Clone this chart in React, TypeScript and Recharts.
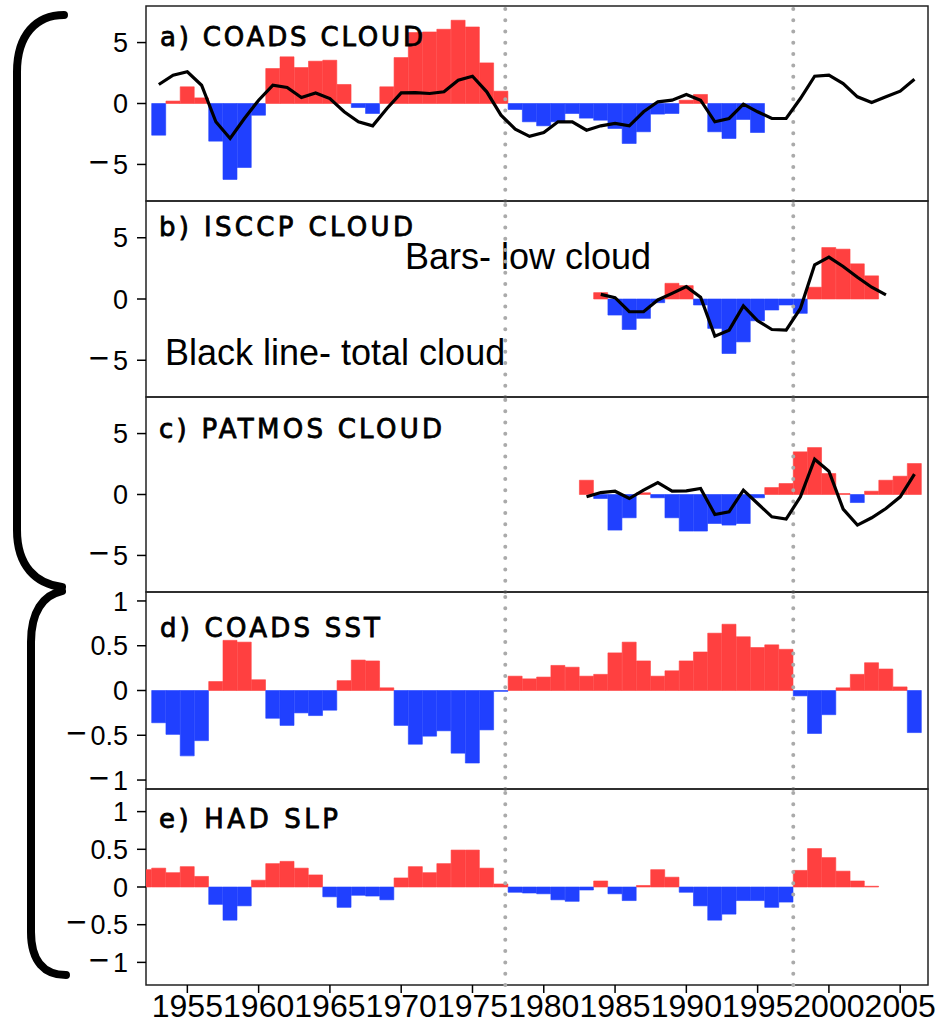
import React from "react";
import {
  ComposedChart,
  Bar,
  Line,
  XAxis,
  YAxis,
  Cell,
  ReferenceLine,
  ReferenceArea,
} from "recharts";

/* ── colours / shared axis ─────────────────────────────────────── */
const RED = "#ff4040";
const BLUE = "#2040ff";
const FONT = "'Liberation Sans', Arial, sans-serif";
const TITLE_FONT = "'DejaVu Sans', Verdana, sans-serif";

const X_MIN = 1952.1;
const X_MAX = 2006.95;
const YEAR_TICKS = [1955, 1960, 1965, 1970, 1975, 1980, 1985, 1990, 1995, 2000, 2005];
const SHIFT_YEARS = [1977.3, 1997.5];

const CLOUD_TICKS = [-5, 0, 5];
const SMALL_TICKS = [-1, -0.5, 0, 0.5, 1];

/* ── a) COADS cloud ────────────────────────────────────────────── */
const COADS_LOW_START = 1953;
const COADS_LOW = [
  -2.6, 0.2, 1.37, 0.46, -3.09, -6.23, -5.25, -0.96, 2.87, 3.83, 2.95, 3.47, 3.55, 1.56, -0.33,
  -0.82, 1.37, 3.77, 5.82, 5.87, 6.09, 6.83, 6.28, 3.33, 1.01, -0.49, -1.5, -1.83, -1.5, -0.82,
  -1.2, -1.37, -2.05, -3.28, -2.32, -0.87, -0.82, 0.27, 0.74, -2.32, -2.87, -1.31, -2.38,
];
const COADS_TOTAL_START = 1953;
const COADS_TOTAL = [
  1.56, 2.32, 2.6, 1.5, -1.5, -2.87, -1.23, 0.27, 1.5, 1.31, 0.49, 0.87, 0.41, -0.68, -1.5,
  -1.83, -0.41, 0.87, 0.9, 0.82, 0.96, 1.91, 2.24, 0.96, -0.96, -2.1, -2.7, -2.38, -1.5, -1.5,
  -2.19, -1.83, -1.64, -1.83, -0.68, 0.14, 0.27, 0.74, 0.27, -1.5, -1.23, -0.05, -0.68, -1.23,
  -1.23, 0.41, 2.24, 2.32, 1.64, 0.55, 0.08, 0.55, 1.01, 1.99,
];

/* ── b) ISCCP cloud ────────────────────────────────────────────── */
const ISCCP_LOW_START = 1984;
const ISCCP_LOW = [
  0.52, -1.31, -2.49, -1.58, -0.3, 1.28, 1.09, -0.49, -2.4, -4.45, -3.5, -1.78, -0.9, -0.49,
  -1.17, 0.96, 4.2, 4.07, 2.87, 1.89,
];
const ISCCP_TOTAL_START = 1984;
const ISCCP_TOTAL = [
  0.38, 0.11, -1.04, -1.04, -0.08, 0.46, 1.01, 0.14, -3.03, -2.54, -0.57, -1.78, -2.49, -2.54,
  -0.77, 2.79, 3.42, 2.65, 1.78, 0.96, 0.33,
];

/* ── c) PATMOS cloud ───────────────────────────────────────────── */
const PATMOS_LOW_START = 1983;
const PATMOS_LOW = [
  1.17, -0.33, -2.92, -1.91, 0.14, -0.27, -1.91, -3.0, -3.0, -2.38, -2.51, -2.38, -0.27, 0.57,
  0.9, 3.5, 3.85, 1.72, 0.08, -0.66, 0.27, 1.17, 1.5, 2.54,
];
const PATMOS_TOTAL_START = 1983;
const PATMOS_TOTAL = [
  -0.19, 0.16, 0.27, -0.33, 0.36, 0.98, 0.27, 0.3, 0.49, -1.64, -1.42, 0.36, -0.74, -1.83, -2.02,
  -0.19, 2.9, 1.91, -1.2, -2.51, -1.91, -1.15, -0.19, 1.67,
];

/* ── d) COADS SST ──────────────────────────────────────────────── */
const SST_START = 1953;
const SST = [
  -0.36, -0.49, -0.73, -0.56, 0.1, 0.56, 0.54, 0.12, -0.31, -0.39, -0.25, -0.28, -0.22, 0.11,
  0.34, 0.33, 0.03, -0.39, -0.6, -0.51, -0.45, -0.7, -0.81, -0.44, -0.01, 0.16, 0.13, 0.15, 0.28,
  0.26, 0.16, 0.18, 0.42, 0.54, 0.33, 0.16, 0.22, 0.33, 0.43, 0.64, 0.74, 0.6, 0.48, 0.51, 0.46,
  -0.06, -0.48, -0.27, 0.03, 0.18, 0.31, 0.24, 0.04, -0.47,
];

/* ── e) HAD SLP ────────────────────────────────────────────────── */
const SLP_START = 1952;
const SLP = [
  0.23, 0.25, 0.19, 0.27, 0.14, -0.23, -0.44, -0.25, 0.09, 0.31, 0.34, 0.25, 0.16, -0.13, -0.27,
  -0.11, -0.12, -0.17, 0.12, 0.27, 0.19, 0.31, 0.49, 0.49, 0.25, 0.04, -0.07, -0.08, -0.09, -0.17,
  -0.19, -0.04, 0.08, -0.09, -0.18, 0.02, 0.23, 0.13, -0.07, -0.25, -0.44, -0.36, -0.18, -0.18,
  -0.27, -0.2, 0.22, 0.51, 0.39, 0.21, 0.08, 0.01,
];

/* ── layout ────────────────────────────────────────────────────── */
const W = 945;
const PLOT_LEFT = 146;
const PLOT_RIGHT = 928;
const X_AXIS_H = 42;
const PAD = 20; // room so tick labels at panel edges aren't clipped

type Row = { year: number; bar: number | null; line: number | null };

function rows(barStart: number, bars: number[], lineStart?: number, line?: number[]): Row[] {
  const out: Row[] = [];
  for (let y = 1951; y <= 2007; y++) {
    const b = bars[y - barStart];
    const l = line && lineStart != null ? line[y - lineStart] : undefined;
    out.push({ year: y, bar: b ?? null, line: l ?? null });
  }
  return out;
}

// y tick: long minus sign, then the number
function YTick(props: any) {
  const { x, y, payload } = props;
  const v: number = payload.value;
  return (
    <text x={x} y={y} dy="0.36em" textAnchor="end" fontSize={27} fontFamily={FONT} fill="#000">
      {v < 0 && <tspan fontSize={35}>{"\u2212"}</tspan>}
      <tspan dx={v < 0 ? 4 : 0}>{String(Math.abs(v))}</tspan>
    </text>
  );
}

function Panel({
  data,
  top,
  height,
  domain,
  ticks,
  showX = false,
  hasLine = false,
}: {
  data: Row[];
  top: number;
  height: number;
  domain: [number, number];
  ticks: number[];
  showX?: boolean;
  hasLine?: boolean;
}) {
  const h = PAD + height + (showX ? X_AXIS_H : PAD);
  return (
    <div style={{ position: "absolute", left: 0, top: top - PAD, width: W, height: h }}>
      <ComposedChart
        width={W}
        height={h}
        data={data}
        barCategoryGap={0}
        barGap={0}
        margin={{ top: PAD, right: W - PLOT_RIGHT, bottom: showX ? 0 : PAD, left: 0 }}
      >
        <XAxis
          type="number"
          dataKey="year"
          domain={[X_MIN, X_MAX]}
          allowDataOverflow
          ticks={YEAR_TICKS}
          hide={!showX}
          height={X_AXIS_H}
          axisLine={false}
          tickSize={8}
          tickMargin={1}
          tickLine={{ stroke: "#000", strokeWidth: 1.5 }}
          tick={{ fill: "#000", fontSize: 32, fontFamily: FONT }}
          interval={0}
        />
        <YAxis
          domain={domain}
          allowDataOverflow
          ticks={ticks}
          width={PLOT_LEFT}
          axisLine={false}
          tickSize={9}
          tickMargin={9}
          tickLine={{ stroke: "#000", strokeWidth: 1.5 }}
          tick={<YTick />}
          interval={0}
        />
        <Bar dataKey="bar" isAnimationActive={false}>
          {data.map((d, i) => {
            const c = d.bar != null && d.bar < 0 ? BLUE : RED;
            return <Cell key={i} fill={c} stroke={c} strokeWidth={0.6} />;
          })}
        </Bar>
        {SHIFT_YEARS.map((x) => (
          <ReferenceLine
            key={x}
            x={x}
            stroke="#aaaaaa"
            strokeWidth={4}
            strokeDasharray="0 11.3"
            strokeLinecap="round"
          />
        ))}
        {hasLine && (
          <Line
            dataKey="line"
            type="linear"
            stroke="#000"
            strokeWidth={3.2}
            dot={false}
            isAnimationActive={false}
          />
        )}
        <ReferenceArea
          x1={X_MIN}
          x2={X_MAX}
          y1={domain[0]}
          y2={domain[1]}
          fill="none"
          fillOpacity={0}
          stroke="#222"
          strokeWidth={1.5}
        />
      </ComposedChart>
    </div>
  );
}

const TITLES = [
  { text: "a) COADS CLOUD", x: 160, y: 46, len: 263 },
  { text: "b) ISCCP CLOUD", x: 159, y: 236, len: 254 },
  { text: "c) PATMOS CLOUD", x: 159, y: 438, len: 283 },
  { text: "d) COADS SST", x: 160, y: 637, len: 220 },
  { text: "e) HAD SLP", x: 159, y: 828, len: 179 },
];

export default function App() {
  return (
    <div style={{ position: "absolute", left: 0, top: 0, width: W, height: 1027, background: "#fff" }}>
      {/* annotation text sits under the chart layers */}
      <svg width={W} height={1027} style={{ position: "absolute", left: 0, top: 0 }}>
        <text x={405} y={269} fontSize={36} fontFamily={FONT} fill="#000">
          Bars- low cloud
        </text>
        <text x={165} y={365} fontSize={36} fontFamily={FONT} fill="#000">
          Black line- total cloud
        </text>
      </svg>

      <Panel data={rows(COADS_LOW_START, COADS_LOW, COADS_TOTAL_START, COADS_TOTAL)} top={6} height={195} domain={[-8, 8]} ticks={CLOUD_TICKS} hasLine />
      <Panel data={rows(ISCCP_LOW_START, ISCCP_LOW, ISCCP_TOTAL_START, ISCCP_TOTAL)} top={201} height={196} domain={[-8, 8]} ticks={CLOUD_TICKS} hasLine />
      <Panel data={rows(PATMOS_LOW_START, PATMOS_LOW, PATMOS_TOTAL_START, PATMOS_TOTAL)} top={397} height={195} domain={[-8, 8]} ticks={CLOUD_TICKS} hasLine />
      <Panel data={rows(SST_START, SST)} top={592} height={197} domain={[-1.1, 1.1]} ticks={SMALL_TICKS} />
      <Panel data={rows(SLP_START, SLP)} top={789} height={196} domain={[-1.3, 1.3]} ticks={SMALL_TICKS} showX />

      {/* titles and the left-hand braces */}
      <svg width={W} height={1027} style={{ position: "absolute", left: 0, top: 0, pointerEvents: "none" }}>
        {TITLES.map((t) => (
          <text
            key={t.text}
            x={t.x}
            y={t.y}
            fontSize={26}
            fontFamily={TITLE_FONT}
            fill="#000"
            stroke="#000"
            strokeWidth={0.8}
            textLength={t.len}
            lengthAdjust="spacing"
          >
            {t.text}
          </text>
        ))}
        <path
          d="M64 15 C 36 15, 17 35, 17 72 L 17 530 C 17 566, 36 584, 62 587"
          stroke="#000"
          strokeWidth={8}
          fill="none"
          strokeLinecap="round"
        />
        <path
          d="M62 591 C 43 595, 31 612, 31 642 L 31 932 C 31 962, 45 975, 66 975"
          stroke="#000"
          strokeWidth={8}
          fill="none"
          strokeLinecap="round"
        />
      </svg>
    </div>
  );
}
